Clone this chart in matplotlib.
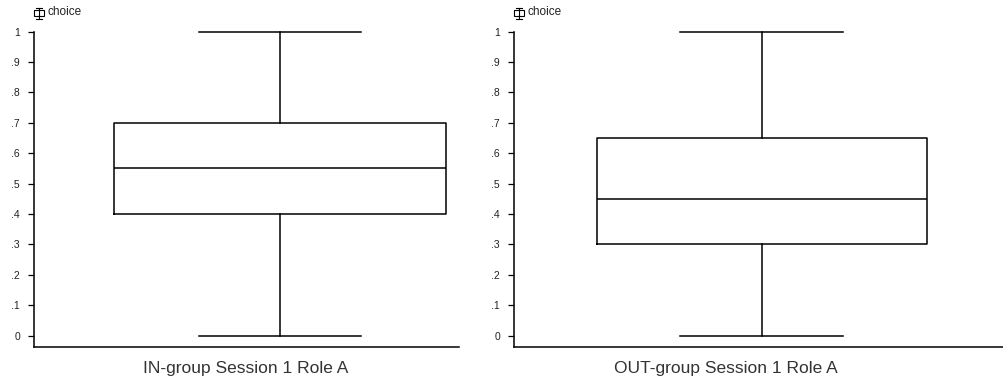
import matplotlib
matplotlib.use("Agg")
import matplotlib.pyplot as plt

plt.rcParams["font.family"] = ["Liberation Sans", "DejaVu Sans"]

# box statistics
groups = ["IN-group Session 1 Role A", "OUT-group Session 1 Role A"]
whislo = [0.0, 0.0]
q1 = [0.4, 0.3]
med = [0.55, 0.45]
q3 = [0.7, 0.65]
whishi = [1.0, 1.0]

yticks = [0, 0.1, 0.2, 0.3, 0.4, 0.5, 0.6, 0.7, 0.8, 0.9, 1.0]
ytick_labels = ["0", ".1", ".2", ".3", ".4", ".5", ".6", ".7", ".8", ".9", "1"]

W, H = 1004, 385
fig = plt.figure(figsize=(W / 100, H / 100), dpi=100)

# pixel layout: (axis left, axis right, box centre, box width px, cap width px, label centre)
layouts = [(34, 459, 280, 332, 162, 246), (514, 1004, 762, 330, 163, 726)]
bottom_px, top_px = 347, 31.5

for i, (l, r, c, bw, cw, lab_x) in enumerate(layouts):
    ax = fig.add_axes([l / W, 1 - bottom_px / H, (r - l) / W, (bottom_px - top_px) / H])
    stats = [dict(whislo=whislo[i], q1=q1[i], med=med[i], q3=q3[i], whishi=whishi[i], fliers=[])]
    parts = ax.bxp(stats, positions=[0], widths=[1.0], capwidths=[cw / bw], showfliers=False,
                   boxprops=dict(color="black", linewidth=1.1),
                   medianprops=dict(color="black", linewidth=1.1),
                   whiskerprops=dict(color="black", linewidth=1.1),
                   capprops=dict(color="black", linewidth=1.1))
    for k in parts:
        for a in parts[k]:
            a.set_clip_on(False)
    ax.set_xlim(-(c - l) / bw, (r - c) / bw)
    ax.set_ylim(-11.5 / 304, 1.0)
    ax.set_xticks([])
    ax.set_yticks(yticks)
    ax.set_yticklabels(ytick_labels, fontsize=7.5, color="#222222")
    ax.tick_params(axis="y", length=4, width=0.9, pad=6)
    for s in ["top", "right"]:
        ax.spines[s].set_visible(False)
    for s in ["left", "bottom"]:
        ax.spines[s].set_linewidth(1.1)
    fig.text(lab_x / W, 1 - 368 / H, groups[i], fontsize=12.5, ha="center", va="center", color="#333333")
    # small box-plot icon and variable name
    ix = l + 5
    iy = 13
    fig.add_artist(plt.Rectangle(((ix - 5) / W, 1 - (iy + 3) / H), 10 / W, 6 / H,
                                 fill=False, lw=0.8, color="black", transform=fig.transFigure))
    fig.add_artist(plt.Line2D([(ix - 3) / W, (ix + 3) / W], [1 - (iy - 5) / H] * 2, lw=0.8,
                              color="black", transform=fig.transFigure))
    fig.add_artist(plt.Line2D([(ix - 3) / W, (ix + 3) / W], [1 - (iy + 6) / H] * 2, lw=0.8,
                              color="black", transform=fig.transFigure))
    fig.add_artist(plt.Line2D([ix / W, ix / W], [1 - (iy - 5) / H, 1 - (iy + 6) / H], lw=0.8,
                              color="black", transform=fig.transFigure))
    fig.text((l + 14) / W, 1 - 12 / H, "choice", fontsize=8.5, ha="left", va="center", color="#222222")

fig.savefig("out.png", dpi=100)
